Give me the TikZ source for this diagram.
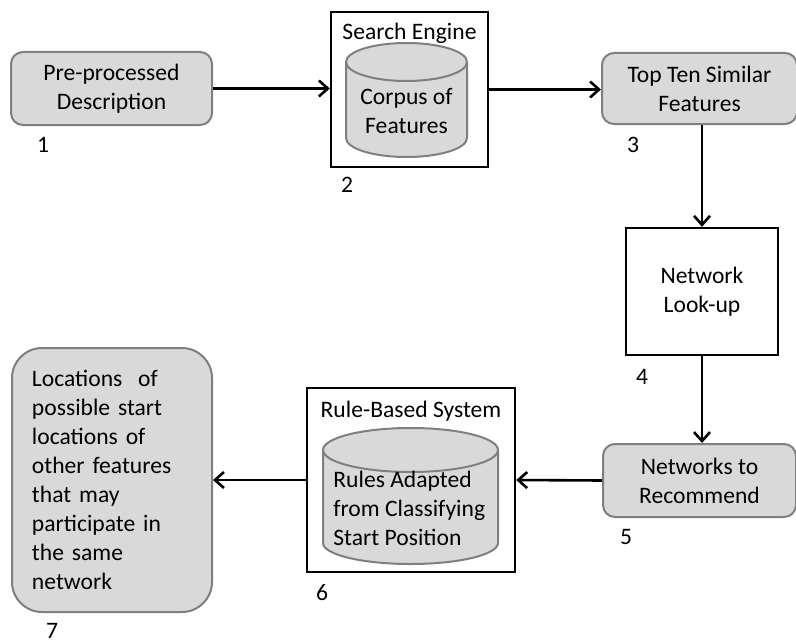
\documentclass[tikz,border=0pt]{standalone}
\usepackage{fontspec}
\setmainfont{Carlito}
\usetikzlibrary{arrows.meta, positioning, shapes.geometric}
\definecolor{BoxFill}{HTML}{D9D9D9}
\definecolor{BoxLine}{HTML}{7F7F7F}

\tikzset{
  stage/.style={draw=BoxLine, fill=BoxFill, line width=1pt, rounded corners=6pt, align=center, inner sep=0pt},
  boxframe/.style={draw=black, line width=1.2pt, inner sep=0pt},
  store/.style={draw=BoxLine, fill=BoxFill, line width=1pt},
  flow/.style={-{Straight Barb[length=4.5pt, width=8pt]}, line width=1.3pt},
  num/.style={inner sep=0pt},
}

\begin{document}
\begin{tikzpicture}[x=0.5pt, y=-0.5pt, font=\fontsize{11.8}{14.5}\selectfont]
    \useasboundingbox (0,0) rectangle (796,642);

    % Top row
    \node[stage, minimum width=100.5pt, minimum height=36.5pt] (desc) at (111.5,88.5) {Pre-processed\\Description};
    \node[boxframe, minimum width=78.5pt, minimum height=77.5pt] (search) at (409.5,89.5) {};
    \node[anchor=base, inner sep=0pt] (searchtitle) at (409.5,40) {Search Engine};
    % corpus cylinder
    \path[store] (346,62) -- (346,138) arc[start angle=180, end angle=360, x radius=30.25pt, y radius=9.5pt]
        -- (467,62) arc[start angle=0, end angle=180, x radius=30.25pt, y radius=9.5pt] -- cycle;
    \draw[BoxLine, line width=1pt] (346,62) arc[start angle=180, end angle=360, x radius=30.25pt, y radius=9.5pt];
    \node[align=center, inner sep=0pt] (corpus) at (406.5,111) {Corpus of\\Features};
    \node[stage, minimum width=97.5pt, minimum height=35.5pt] (similar) at (699.5,88.5) {Top Ten Similar\\Features};

    % Look-up step
    \node[boxframe, minimum width=76pt, minimum height=63.5pt, align=center] (lookup) at (702,291.5) {Network\\Look-up};

    % Bottom row
    \node[stage, minimum width=96.5pt, minimum height=36.5pt] (recommend) at (699.5,480.5) {Networks to\\Recommend};
    \node[boxframe, minimum width=104pt, minimum height=92pt] (rulesys) at (411,480) {};
    \node[anchor=base, inner sep=0pt] (rulestitle) at (411,417) {Rule-Based System};
    % rules cylinder
    \path[store] (323,450) -- (323,543) arc[start angle=180, end angle=360, x radius=43.75pt, y radius=10.5pt]
        -- (498,450) arc[start angle=0, end angle=180, x radius=43.75pt, y radius=11pt] -- cycle;
    \draw[BoxLine, line width=1pt] (323,450) arc[start angle=180, end angle=360, x radius=43.75pt, y radius=11pt];
    \node[align=left, anchor=west, inner sep=0pt] (rules) at (333,508) {Rules Adapted\\from Classifying\\Start Position};
    \node[stage, rounded corners=15pt, minimum height=132pt, text width=80pt, inner xsep=10pt, align=left] (locations) at (112,480) {Locations~ of\\possible start\\locations of\\other features\\that may\\participate in\\the same\\network};

    % Step numbers
    \node[num] (n1) at (43,145) {1};
    \node[num] (n2) at (347,185) {2};
    \node[num] (n3) at (633,145) {3};
    \node[num] (n4) at (642,377) {4};
    \node[num] (n5) at (626,537) {5};
    \node[num] (n6) at (322,593) {6};
    \node[num] (n7) at (52,631) {7};

    % Connectors
    \draw[flow] (desc.east) -- (desc.east -| search.west);
    \draw[flow] (search.east) -- (search.east -| similar.west);
    \draw[flow] (similar.south -| lookup.north) -- (lookup.north);
    \draw[flow] (lookup.south) -- (lookup.south |- recommend.north);
    \draw[flow] (recommend.west) -- (rulesys.east);
    \draw[flow] (rulesys.west) -- (locations.east);
\end{tikzpicture}
\end{document}
